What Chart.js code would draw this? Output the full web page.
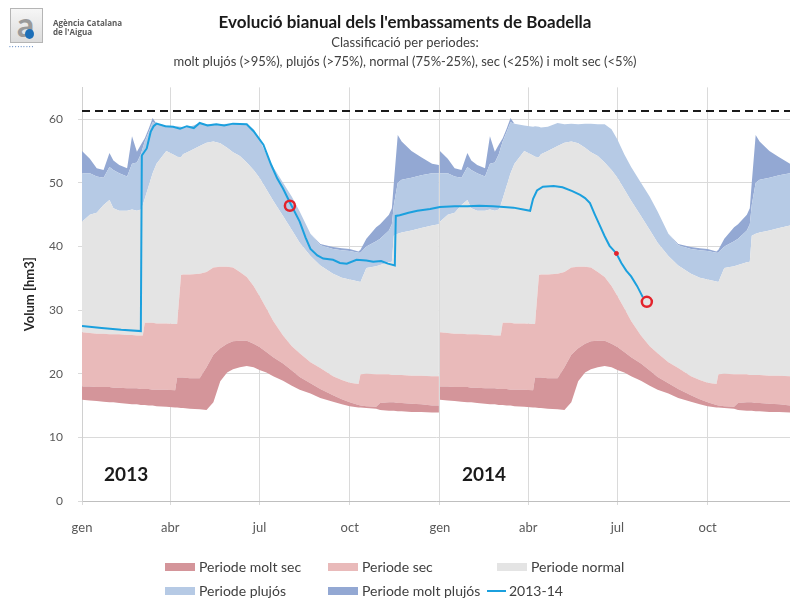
<!DOCTYPE html>
<html>
<head>
<meta charset="utf-8">
<title>Evolució bianual dels l'embassaments de Boadella</title>
<script src="https://cdn.jsdelivr.net/npm/chart.js@4.4.1/dist/chart.umd.min.js"></script>
<style>
  body { margin: 0; background: #fff; font-family: Lato, "Open Sans", sans-serif; }
  #wrap { position: relative; width: 790px; height: 608px; overflow: hidden; }
  #grafic { position: absolute; left: 0; top: 0; }
  #logo .caixa { position: absolute; left: 10px; top: 8px; width: 31px; height: 33px; border: 1px solid #b5b5b5;
    background: linear-gradient(#f6f6f6, #dcdcdc); overflow: hidden; }
  #logo .lletra { position: absolute; left: 6px; top: -6px; font: bold 34px Lato, sans-serif; color: #9a9a9a; }
  #logo .gota { position: absolute; left: 14px; top: 20px; width: 9px; height: 10px; border-radius: 50%; background: #1d6fb8; }
  #logo .punts { position: absolute; left: 9px; top: 42px; font-size: 7px; color: #5d86c0; letter-spacing: 1px; }
  #logo .nom { position: absolute; left: 53px; top: 18px; font: bold 8px/9px "Open Sans", sans-serif; color: #5a5a5a; }
  #llegenda { position: absolute; left: 165px; top: 558px; display: grid;
    grid-template-columns: 163px 159px auto; row-gap: 7px; font-size: 14px; color: #404040; }
  #llegenda .item { display: flex; align-items: center; height: 17px; white-space: nowrap; }
  #llegenda .caixa { width: 30px; height: 8px; margin-right: 4px; }
  #llegenda .linia { width: 19px; height: 2px; margin-right: 3px; }
  #llegenda .item:nth-child(3) .caixa { margin-left: 10px; }
</style>
</head>
<body>
<div id="wrap">
  <canvas id="grafic" width="790" height="608"></canvas>
  <div id="logo">
    <div class="caixa"><span class="lletra">a</span><span class="gota"></span></div>
    <div class="punts">·········</div>
    <div class="nom">Agència Catalana<br>de l'Aigua</div>
  </div>
  <div id="llegenda"></div>
</div>
<script>
// dies de l'any on es llegeixen els límits de cada període (climatologia, igual cada any)
const dies = [0, 8, 15, 22, 28, 32, 38, 46, 51, 56, 60, 62, 64, 68, 72, 76, 86, 95, 97, 101,
  103, 110, 120, 127, 134, 141, 148, 154, 161, 168, 175, 181, 188, 195, 205, 214, 222, 233, 243, 256,
  265, 273, 282, 284, 290, 300, 304, 313, 316, 318, 322, 326, 336, 346, 357, 364];

const moltSecInf = [15.9, 15.8, 15.7, 15.6, 15.5, 15.5, 15.4, 15.3, 15.2, 15.2, 15.1, 15.1, 15.1, 15.0, 15.0, 14.9, 14.8, 14.7, 14.7, 14.6,
  14.6, 14.5, 14.4, 14.3, 15.5, 18.8, 20.2, 20.7, 21.0, 21.2, 21.0, 20.6, 20.2, 19.6, 18.9, 18.1, 17.5, 16.9, 16.2, 15.6,
  15.2, 14.9, 14.7, 14.7, 14.6, 14.5, 14.3, 14.2, 14.2, 14.2, 14.1, 14.1, 14.0, 14.0, 13.9, 13.9];

const moltSecSup = [18.0, 18.0, 17.9, 17.9, 17.9, 17.8, 17.8, 17.7, 17.7, 17.7, 17.6, 17.6, 17.6, 17.6, 17.5, 17.5, 17.5, 17.4, 19.4, 19.4,
  19.4, 19.3, 19.3, 21.0, 23.0, 24.0, 24.7, 25.1, 25.2, 25.2, 24.7, 24.2, 23.4, 22.6, 21.6, 20.5, 19.5, 18.5, 17.6, 16.6,
  16.0, 15.5, 15.1, 15.0, 14.9, 14.8, 15.4, 15.5, 15.5, 15.5, 15.4, 15.4, 15.3, 15.2, 15.0, 15.0];

const secSup = [26.5, 26.4, 26.3, 26.3, 26.2, 26.2, 26.2, 26.1, 26.1, 26.0, 26.0, 26.0, 28.0, 28.0, 28.0, 27.9, 27.9, 27.8, 27.8, 35.5,
  35.6, 35.6, 35.7, 36.0, 36.7, 36.8, 36.8, 36.7, 36.0, 35.2, 33.8, 32.2, 30.3, 28.3, 26.0, 24.3, 23.2, 21.8, 20.9, 19.6,
  19.0, 18.6, 18.4, 19.9, 20.0, 19.9, 19.9, 19.9, 19.8, 19.8, 19.8, 19.8, 19.7, 19.7, 19.6, 19.6];

const normalSup = [43.9, 45.0, 45.3, 46.5, 47.3, 46.0, 45.6, 45.6, 45.8, 45.6, 45.8, 46.5, 47.5, 49.5, 51.5, 53.0, 55.0, 54.3, 54.1, 54.0,
  54.5, 55.0, 55.8, 56.3, 56.5, 56.2, 55.5, 54.8, 54.2, 53.2, 52.0, 50.8, 49.0, 47.2, 44.8, 42.6, 40.6, 38.5, 37.0, 35.7,
  35.1, 34.8, 34.5, 34.4, 36.6, 36.9, 37.1, 37.5, 37.6, 41.7, 42.0, 42.2, 42.5, 42.9, 43.3, 43.5];

const plujosSup = [51.5, 51.5, 51.0, 50.8, 52.5, 52.0, 51.5, 51.0, 53.0, 53.2, 54.5, 55.5, 56.5, 58.0, 59.5, 59.3, 59.0, 58.8, 58.9, 58.8,
  58.7, 58.8, 59.4, 59.2, 59.3, 59.2, 59.3, 59.3, 59.2, 59.2, 58.4, 56.8, 54.5, 52.5, 50.0, 47.8, 45.5, 42.0, 40.2, 39.6,
  39.4, 39.3, 39.0, 39.0, 40.0, 40.8, 41.2, 42.5, 43.5, 46.5, 50.0, 50.5, 50.8, 51.2, 51.5, 51.5];

const moltPlujosSup = [55.0, 53.8, 52.3, 52.0, 54.7, 53.5, 52.8, 52.3, 57.3, 54.9, 56.0, 56.5, 57.0, 58.5, 60.2, 59.3, 59.0, 58.8, 58.9, 58.8,
  58.7, 58.8, 59.4, 59.2, 59.3, 59.2, 59.3, 59.3, 59.2, 59.2, 58.4, 56.8, 54.5, 52.5, 50.0, 47.8, 45.5, 42.0, 40.4, 39.9,
  39.7, 39.6, 39.2, 39.5, 41.2, 43.0, 43.5, 45.0, 46.0, 50.0, 57.5, 56.5, 55.0, 54.0, 53.0, 52.8];

// volum mesurat 2013-14 (dia comptat des de l'1 de gener de 2013)
const diesMesura = [0, 20, 40, 60, 61, 66, 70, 73, 76, 85, 93, 100, 107, 114, 120, 128, 137, 145, 154, 168,
  175, 185, 193, 199, 205, 212, 222, 228, 233, 240, 246, 256, 263, 270, 280, 290, 297, 305, 312, 319,
  320, 324, 333, 342, 355, 365, 380, 393, 405, 419, 430, 440, 450, 457, 460, 464, 470, 481, 490, 500,
  508, 513, 518, 523, 528, 533, 538, 545, 550, 555, 560, 566, 572];
const volumMesura = [27.5, 27.2, 26.9, 26.7, 54.3, 55.4, 58.0, 58.9, 59.3, 58.9, 58.8, 58.5, 58.9, 58.6, 59.4, 59.0, 59.2, 59.0, 59.3, 59.2,
  58.1, 56.0, 52.8, 50.7, 49.1, 46.9, 43.9, 41.4, 39.6, 38.6, 38.1, 37.9, 37.4, 37.3, 37.9, 37.8, 37.6, 37.7, 37.3, 37.0,
  44.8, 44.9, 45.3, 45.6, 45.9, 46.2, 46.3, 46.3, 46.4, 46.3, 46.2, 46.1, 45.8, 45.6, 47.5, 48.8, 49.4, 49.5, 49.3, 48.7,
  48.1, 47.6, 46.8, 45.0, 43.3, 41.6, 40.1, 38.9, 37.4, 36.2, 35.3, 33.8, 32.0];

// marques en vermell (mateix dia de l'any anterior i dia actual)
const marquesDies = [212, 576, 545];
const marquesVolum = [46.4, 31.3, 38.9];

const capacitat = 61.3;
const anys = ['2013', '2014'];
const iniciAnys = [0, 365];
const iniciTrimestres = [0, 90, 181, 273, 365, 455, 546, 638];
const etiquetesMes = ['gen', 'abr', 'jul', 'oct', 'gen', 'abr', 'jul', 'oct'];
const xMax = 722;

// repeteix la climatologia per als dos anys, amb un petit tall entre anys
function serieBianual(valors) {
    const punts = [];
    iniciAnys.forEach((inici, i) => {
        if (i > 0) punts.push({ x: inici - 0.5, y: null });
        dies.forEach((d, j) => punts.push({ x: inici + d, y: valors[j] }));
    });
    return punts;
}

function banda(label, valors, color) {
    return {
        label: label,
        data: serieBianual(valors),
        fill: '-1',
        backgroundColor: color,
        borderColor: color,
        borderWidth: 0,
        pointRadius: 0,
        order: 5,
        enLlegenda: true
    };
}

const font = 'Lato';

const etiquetesAny = {
    id: 'etiquetesAny',
    afterDatasetsDraw(chart, args, opts) {
        const { ctx, scales: { x, y } } = chart;
        ctx.save();
        ctx.font = 'bold 19px ' + font;
        ctx.fillStyle = '#1a1a1a';
        ctx.textAlign = 'center';
        ctx.textBaseline = 'middle';
        anys.forEach((a, i) => {
            ctx.fillText(a, x.getPixelForValue(opts.dies[i]), y.getPixelForValue(opts.volum));
        });
        ctx.restore();
    }
};

const data = {
    datasets: [
        {
            label: '',
            data: serieBianual(moltSecInf),
            fill: false,
            borderWidth: 0,
            pointRadius: 0,
            order: 5
        },
        banda('Periode molt sec', moltSecSup, '#d4959a'),
        banda('Periode sec', secSup, '#e9baba'),
        banda('Periode normal', normalSup, '#e4e4e4'),
        banda('Periode plujós', plujosSup, '#b6cae5'),
        banda('Periode molt plujós', moltPlujosSup, '#93a8d3'),
        {
            label: '2013-14',
            data: diesMesura.map((d, i) => ({ x: d, y: volumMesura[i] })),
            borderColor: '#1ba0de',
            backgroundColor: '#1ba0de',
            borderWidth: 2,
            pointRadius: 0,
            fill: false,
            order: 2,
            enLlegenda: true
        },
        {
            label: 'capacitat',
            data: [{ x: 0, y: capacitat }, { x: xMax, y: capacitat }],
            borderColor: '#1a1a1a',
            borderWidth: 2,
            borderDash: [8, 5],
            pointRadius: 0,
            fill: false,
            order: 3
        },
        {
            label: 'marques',
            data: marquesDies.map((d, i) => ({ x: d, y: marquesVolum[i] })),
            showLine: false,
            pointRadius: [5, 5, 2],
            pointBorderWidth: [2.5, 2.5, 1],
            pointBorderColor: '#e3232c',
            pointBackgroundColor: ['rgba(0,0,0,0)', 'rgba(0,0,0,0)', '#e3232c'],
            fill: false,
            order: 1
        }
    ]
};

const config = {
    type: 'line',
    data: data,
    plugins: [etiquetesAny],
    options: {
        responsive: false,
        animation: false,
        spanGaps: false,
        layout: { autoPadding: false, padding: { left: 20, right: 0, top: 0, bottom: 67 } },
        elements: { line: { tension: 0 } },
        plugins: {
            legend: { display: false },
            tooltip: { enabled: false },
            title: {
                display: true,
                text: "Evolució bianual dels l'embassaments de Boadella",
                color: '#1a1a1a',
                font: { family: font, size: 17, weight: 'bold', lineHeight: 1.2 },
                padding: { top: 12, bottom: 1 }
            },
            subtitle: {
                display: true,
                text: ['Classificació per periodes:',
                    'molt plujós (>95%), plujós (>75%), normal (75%-25%), sec (<25%) i molt sec (<5%)'],
                color: '#404040',
                font: { family: font, size: 13, lineHeight: 1.46 },
                padding: { top: 0, bottom: 16 }
            },
            etiquetesAny: { dies: [45, 410], volum: 4.1 }
        },
        scales: {
            x: {
                type: 'linear',
                min: 0,
                max: xMax,
                z: 1,
                afterBuildTicks(scale) {
                    scale.ticks = iniciTrimestres.map(v => ({ value: v }));
                },
                afterFit(scale) {
                    // l'eix arriba fins a la vora dreta, com a l'original
                    scale.height = 40;
                    scale.paddingLeft = 0;
                    scale.paddingRight = 0;
                },
                ticks: {
                    autoSkip: false,
                    maxRotation: 0,
                    padding: 15,
                    color: '#595959',
                    font: { family: font, size: 13 },
                    callback: (value, index) => etiquetesMes[index]
                },
                grid: { color: 'rgba(150,150,150,0.35)', tickLength: 4 },
                border: { color: '#bfbfbf' }
            },
            y: {
                min: 0,
                max: 65,
                afterBuildTicks(scale) {
                    scale.ticks = scale.ticks.filter(t => t.value % 10 === 0);
                },
                afterFit(scale) { scale.width = 62; },
                ticks: {
                    stepSize: 10,
                    padding: 15,
                    color: '#595959',
                    font: { family: font, size: 12 }
                },
                grid: { color: '#dadada', tickLength: 4 },
                border: { color: '#d0d0d0' },
                title: {
                    display: true,
                    text: 'Volum [hm3]',
                    color: '#262626',
                    font: { family: font, size: 13, weight: 'bold' },
                    padding: { top: 2, bottom: 4 }
                }
            }
        }
    }
};

const grafic = new Chart(document.getElementById('grafic'), config);

// llegenda HTML en tres columnes, com a l'original
const llegenda = document.getElementById('llegenda');
grafic.data.datasets.filter(ds => ds.enLlegenda).forEach(ds => {
    const item = document.createElement('div');
    item.className = 'item';
    const marca = document.createElement('span');
    if (ds.fill === false) {
        marca.className = 'linia';
        marca.style.background = ds.borderColor;
    } else {
        marca.className = 'caixa';
        marca.style.background = ds.backgroundColor;
    }
    const text = document.createElement('span');
    text.textContent = ds.label;
    item.appendChild(marca);
    item.appendChild(text);
    llegenda.appendChild(item);
});
</script>
</body>
</html>
